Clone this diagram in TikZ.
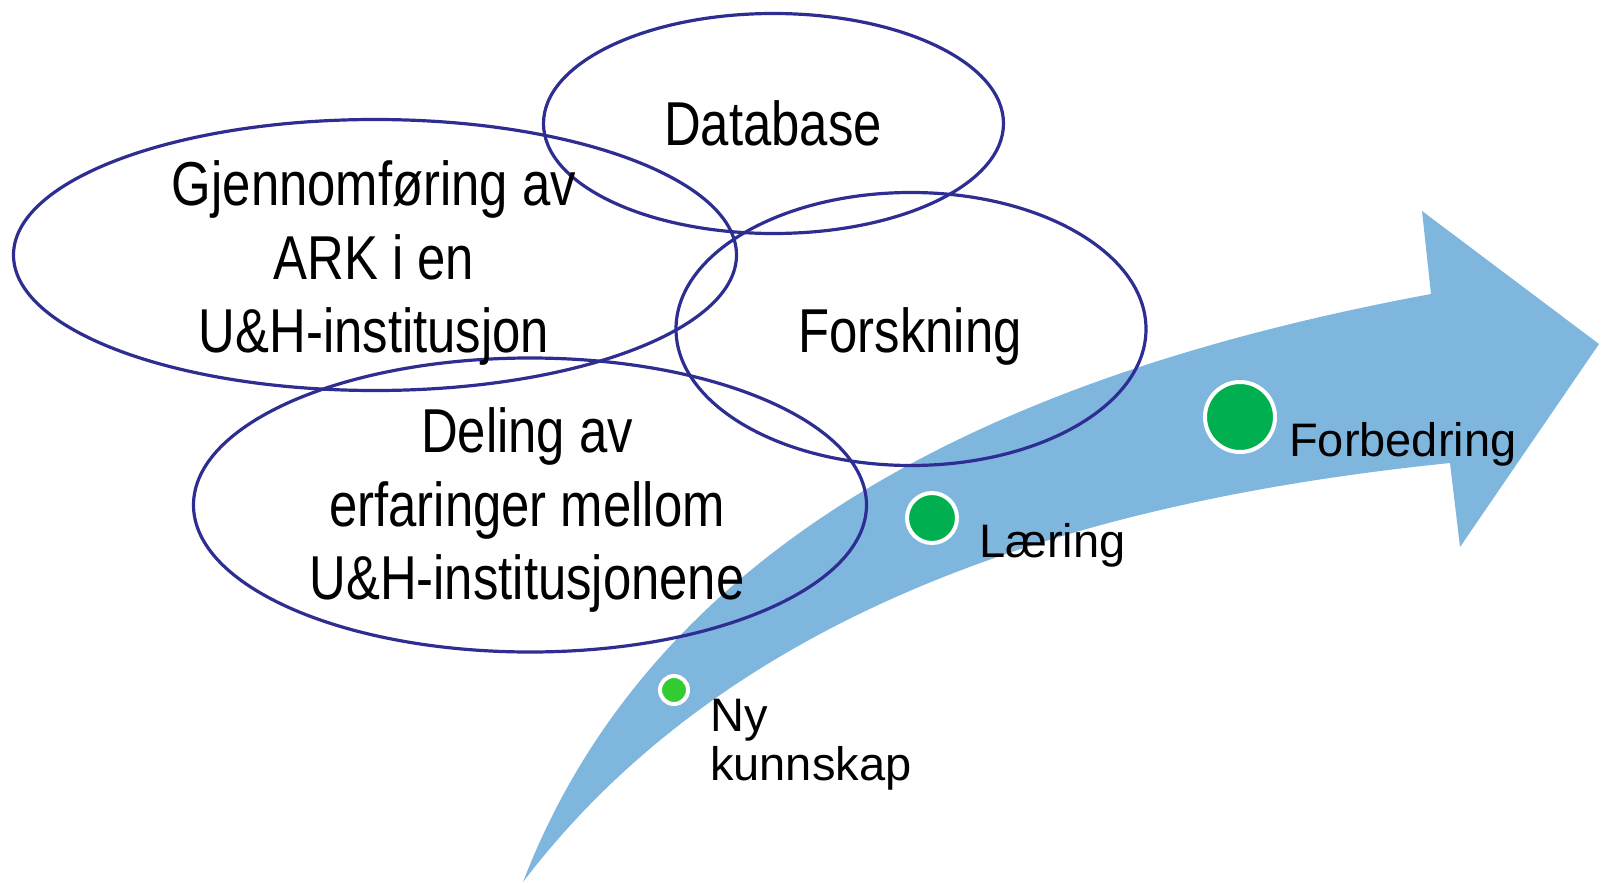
\documentclass[tikz,border=0pt]{standalone}
\usepackage{fontspec}
\setmainfont{Liberation Sans}
\newfontfamily\narrowf[FakeStretch=0.82]{Liberation Sans}
\usetikzlibrary{shapes.geometric}
\definecolor{arrowblue}{RGB}{127,182,222}
\definecolor{ringblue}{RGB}{46,46,146}
\definecolor{dotgreen}{RGB}{0,176,80}
\definecolor{lightgreen}{RGB}{51,204,51}
\begin{document}
\begin{tikzpicture}[x=1pt,y=-1pt,
  bubble/.style={ellipse, draw=ringblue, line width=3.2pt, inner sep=0pt},
  bigtext/.style={font=\narrowf\fontsize{62}{73.5}\selectfont, align=center, inner sep=0pt},
  smalltext/.style={font=\fontsize{47}{49}\selectfont, inner sep=0pt},
  dot/.style={circle, draw=white, line width=4pt, inner sep=0pt, fill=dotgreen}]
\useasboundingbox (0,0) rectangle (1601,883);
% arrow
\coordinate (tail) at (523,882);
\coordinate (shafttop) at (1431,294);
\coordinate (headtop) at (1422,211);
\coordinate (tip) at (1599,344);
\coordinate (headbot) at (1460,547);
\coordinate (shaftbot) at (1450,463);
\fill[arrowblue] (tail) .. controls (668,505) and (1071,361) .. (shafttop)
  -- (headtop) -- (tip) -- (headbot) -- (shaftbot)
  .. controls (1108,498) and (741,596) .. (tail) -- cycle;
% ellipses
\node[bubble, minimum width=460, minimum height=220] (db) at (773.5,123.5) {};
\node[bubble, minimum width=723, minimum height=271] (gj) at (375,255) {};
\node[bubble, minimum width=470, minimum height=273] (fo) at (911,329) {};
\node[bubble, minimum width=673, minimum height=294] (de) at (530,505) {};
% texts
\node[bigtext] (dbt) at (773,123.5) {Database};
\node[bigtext] (gjt) at (374,263) {Gjennomføring av\\ARK i en\\U\&H-institusjon};
\node[bigtext] (fot) at (910,336) {Forskning};
\node[bigtext] (det) at (527,510) {Deling av\\erfaringer mellom\\U\&H-institusjonene};
% dots
\node[dot, fill=lightgreen, minimum size=28] (d1) at (674,690) {};
\node[dot, minimum size=50] (d2) at (932,518) {};
\node[dot, minimum size=70] (d3) at (1240,417) {};
% labels
\node[smalltext, anchor=base west] (l3) at (1289,456) {Forbedring};
\node[smalltext, anchor=base west] (l2) at (979,557) {Læring};
\node[smalltext, anchor=north west, align=left] (l1) at (710,699) {Ny\\kunnskap};
\end{tikzpicture}
\end{document}
